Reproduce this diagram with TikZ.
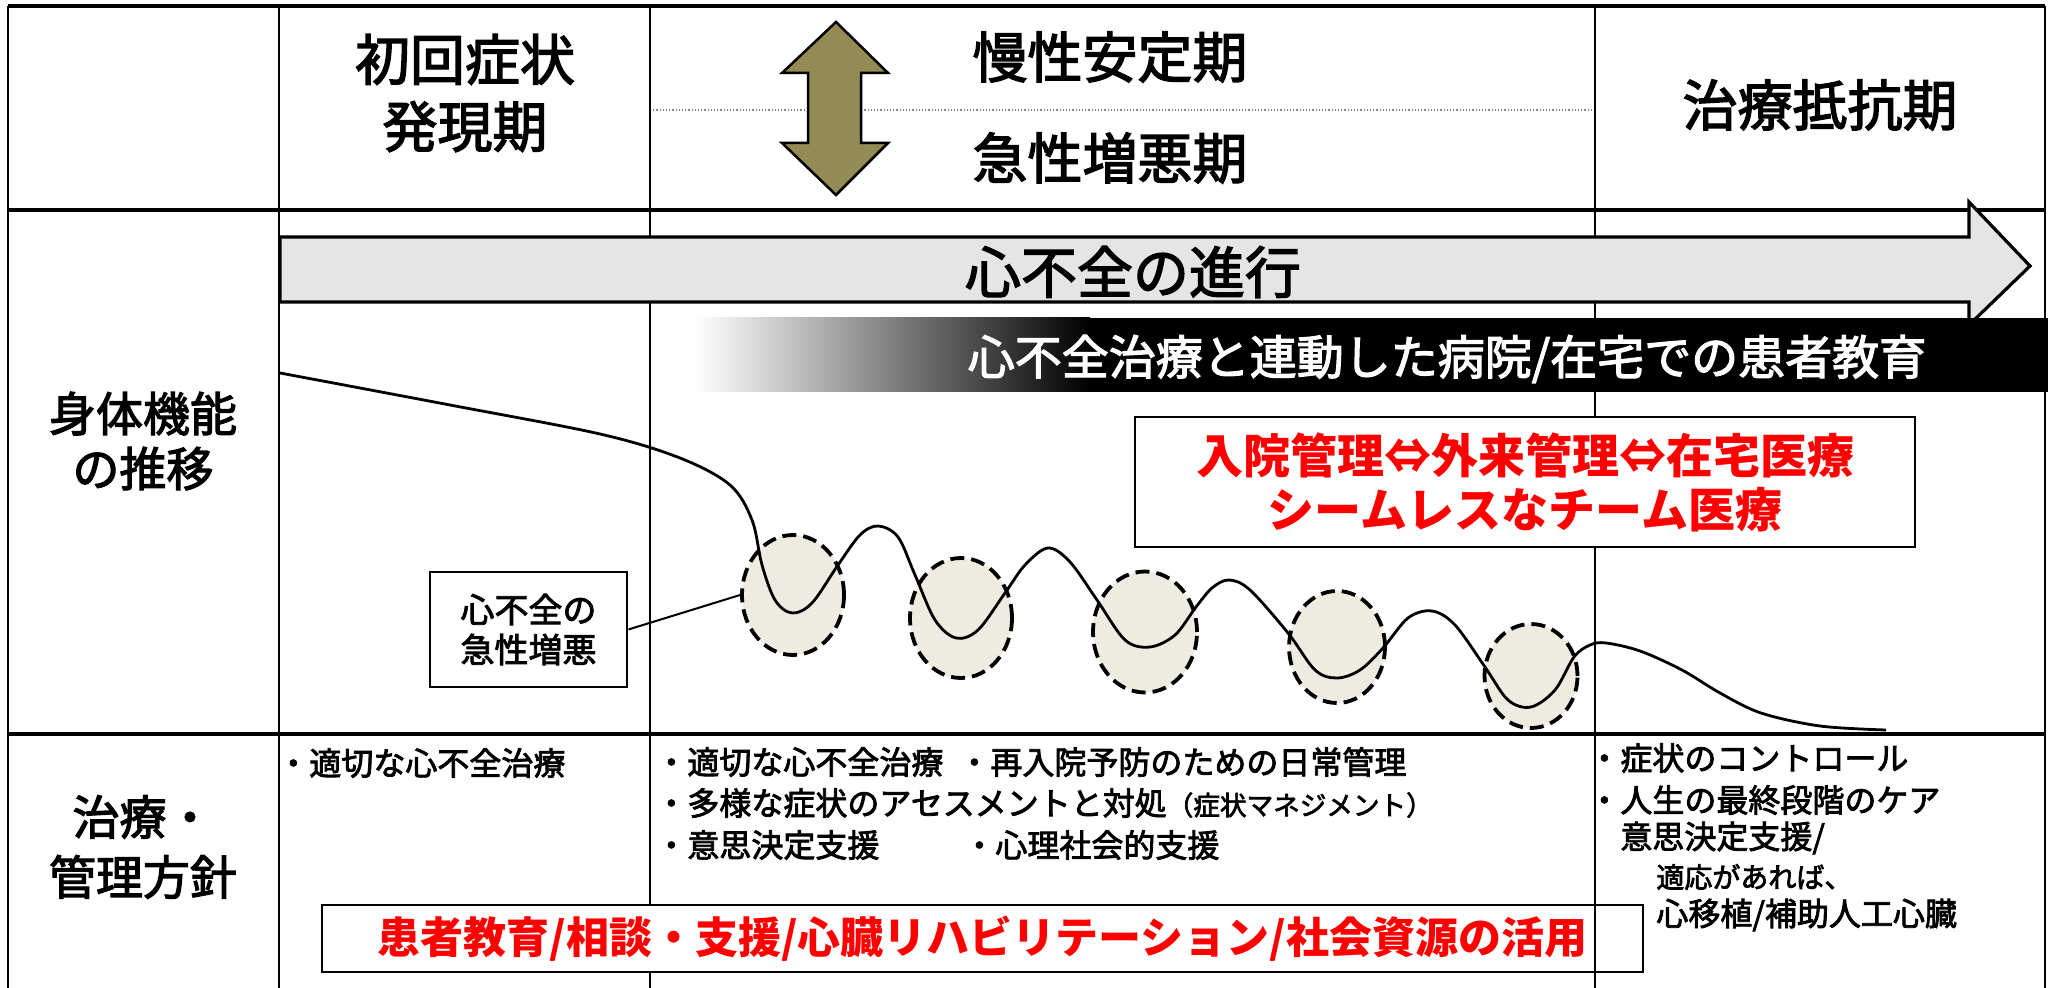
\documentclass[tikz,border=0pt]{standalone}
\usepackage{fontspec}
\setmainfont{Noto Sans CJK JP}
\newfontfamily\medfont{Noto Sans CJK JP}[FakeBold=2.5]
\usetikzlibrary{shapes.geometric}
\definecolor{myolive}{RGB}{148,138,84}
\definecolor{mybeige}{RGB}{238,236,225}
\newcommand{\fsz}[2]{\fontsize{#1}{#2}\selectfont}
\begin{document}
\begin{tikzpicture}[x=0.5pt,y=-0.5pt,
  gline/.style={line width=1pt},
  hline/.style={line width=1.6pt},
  hdr/.style={inner sep=0pt, align=center, font=\medfont\fsz{27.5}{33.5}},
  rowlbl/.style={inner sep=0pt, align=center, font=\medfont\fsz{23.5}{27.5}},
  itemtxt/.style={inner sep=0pt, anchor=west, font=\medfont\fsz{16}{20}},
  crisis/.style={ellipse, draw, fill=mybeige, line width=1.9pt, dash pattern=on 7pt off 3.5pt, inner sep=0pt},
  redbox/.style={draw, fill=white, inner sep=0pt, align=center, text=red}]
\useasboundingbox (0,0) rectangle (2055,988);
\fill[white] (0,0) rectangle (2055,988);
% dotted divider
\draw[densely dotted, gray, line width=0.6pt] (650,110) -- (1595,110);
% grid
\draw[gline] (8,6) -- (8,988);
\draw[gline] (2045,6) -- (2045,988);
\draw[gline] (279,6) -- (279,988);
\draw[gline] (650,6) -- (650,988);
\draw[gline] (1595,6) -- (1595,988);
\draw[hline] (8,6) -- (2045,6);
\draw[hline] (8,210) -- (2045,210);
\draw[hline] (8,734) -- (2045,734);
% headers
\node[hdr] (h1) at (465,93) {初回症状\\発現期};
\node[hdr] (h2a) at (1110,57) {慢性安定期};
\node[hdr] (h2b) at (1110,158) {急性増悪期};
\node[hdr] (h3) at (1820,105) {治療抵抗期};
% double arrow
\draw[line width=1.25pt, fill=myolive] (836,22) -- (888,73) -- (861,73) -- (861,143) -- (888,143) -- (836,195) -- (782,143) -- (808,143) -- (808,73) -- (782,73) -- cycle;
% row labels
\node[rowlbl] (r1) at (143,441) {身体機能\\の推移};
\node[rowlbl, font=\medfont\fsz{23.5}{30}] (r2) at (143,847) {治療・\\管理方針};
% big progress arrow
\draw[line width=1.6pt, fill=gray!20] (280,237) -- (1969,237) -- (1969,202) -- (2030,266) -- (1969,325) -- (1969,302) -- (280,302) -- cycle;
\node[inner sep=0pt, font=\medfont\fsz{28}{32}] (prog) at (1133,272) {心不全の進行};
% gradient bar
\shade[left color=white, right color=black] (696,318) rectangle (1090,392);
\fill[black] (1089,318) rectangle (2048,392);
\node[inner sep=0pt, text=white, font=\medfont\fsz{23.5}{27}] (edu) at (1447,359) {心不全治療と連動した病院/在宅での患者教育};
% crisis ellipses
\node[crisis, minimum width=51pt, minimum height=60pt] (e1) at (793,595) {};
\node[crisis, minimum width=51pt, minimum height=60pt] (e2) at (961,618) {};
\node[crisis, minimum width=52pt, minimum height=60.5pt] (e3) at (1145,632) {};
\node[crisis, minimum width=48pt, minimum height=56pt] (e4) at (1337,647) {};
\node[crisis, minimum width=46.5pt, minimum height=52pt] (e5) at (1531,676) {};
% function curve
\draw[line width=1.4pt] plot[smooth, tension=0.55] coordinates {
 (280,373) (450,405) (600,434) (680,458) (730,485) (752,520) (762,565) (775,600) (792,613)
 (812,603) (838,565) (860,535) (878,526) (898,537) (915,575) (935,620) (956,638)
 (978,630) (1005,593) (1025,565) (1048,548) (1070,562) (1097,600) (1125,640) (1150,647)
 (1175,635) (1196,607) (1212,588) (1229,580) (1250,590) (1288,633) (1315,670) (1337,678)
 (1360,670) (1383,648) (1408,618) (1432,611) (1455,625) (1485,667) (1508,700) (1531,707)
 (1555,690) (1574,657) (1590,645) (1606,643) (1640,651) (1682,670) (1720,693) (1761,713)
 (1820,726) (1886,730)};
% callout
\node[draw, line width=1.4pt, fill=white, minimum width=98.5pt, minimum height=57.5pt, align=center, inner sep=0pt, font=\medfont\fsz{17}{20}] (cb) at (528.5,629.5) {心不全の\\急性増悪};
\draw[line width=1pt] (cb.east) -- (e1.west);
% seamless box
\node[redbox, line width=1.4pt, minimum width=390pt, minimum height=65pt, font=\bfseries\fsz{23.5}{27}] (seam) at (1525,482) {入院管理⇔外来管理⇔在宅医療\\シームレスなチーム医療};
% row 3 items
\node[itemtxt] (c2a) at (277,763) {・適切な心不全治療};
\node[itemtxt] (c3a) at (655,762) {・適切な心不全治療};
\node[itemtxt] (c3b) at (958,762) {・再入院予防のための日常管理};
\node[itemtxt] (c3c) at (655,803) {・多様な症状のアセスメントと対処{\fsz{13.3}{16}（症状マネジメント）}};
\node[itemtxt] (c3d) at (655,845) {・意思決定支援};
\node[itemtxt] (c3e) at (963,845) {・心理社会的支援};
\node[itemtxt] (c4a) at (1588,758) {・症状のコントロール};
\node[itemtxt] (c4b) at (1588,800) {・人生の最終段階のケア};
\node[itemtxt] (c4c) at (1620,838) {意思決定支援/};
\node[itemtxt, font=\medfont\fsz{14}{17}] (c4d) at (1656,877) {適応があれば、};
\node[itemtxt] (c4e) at (1656,915) {心移植/補助人工心臓};
% resources box
\node[redbox, line width=1pt, minimum width=660.5pt, minimum height=33.5pt, font=\bfseries\fsz{21.5}{25}] (res) at (982.5,938.5) {患者教育/相談・支援/心臓リハビリテーション/社会資源の活用};
\draw[gline] (1595,905) -- (1595,972);
\end{tikzpicture}
\end{document}
